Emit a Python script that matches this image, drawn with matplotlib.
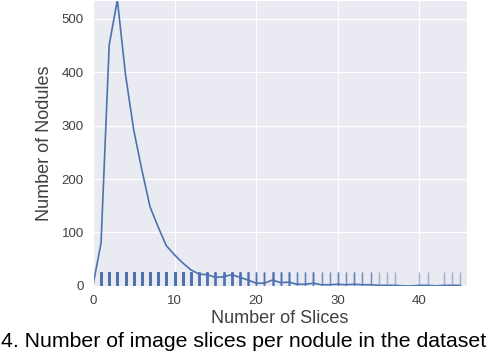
import numpy as np
import matplotlib
matplotlib.use("Agg")
import matplotlib.pyplot as plt
import seaborn as sns

sns.set_style("darkgrid")
plt.rcParams['font.family'] = ['Liberation Sans', 'DejaVu Sans']

# number of slices per nodule -> how many nodules have that many slices
slices = list(range(0, 46))
counts = [0, 80, 451, 535, 395, 292, 217, 148, 110, 75,
          58, 43, 30, 22, 21, 16, 17, 21, 16, 11,
          5, 5, 11, 6, 7, 3, 3, 5, 2, 2,
          3, 2, 3, 2, 2, 1, 1, 1, 0, 0,
          1, 1, 0, 1, 1, 1]

blue = "#4C72B0"

fig = plt.figure(figsize=(5.02, 3.56), dpi=100)
ax = fig.add_axes([0.185, 0.197, 0.745, 0.803])

ax.plot(slices, counts, color=blue, lw=1.2)

# rug of the individual observations
rug = np.repeat(slices, counts)
sns.rugplot(x=rug, ax=ax, height=0.05, color=blue, alpha=0.5, lw=1.2)

ax.set_xlim(0, 45.8)
ax.set_ylim(0, 535)
ax.set_xticks([0, 10, 20, 30, 40])
ax.set_yticks([0, 100, 200, 300, 400, 500])
ax.tick_params(labelsize=9.5, colors='.25', pad=3)
ax.set_xlabel("Number of Slices", fontsize=13, color='.25', labelpad=2)
ax.set_ylabel("Number of Nodules", fontsize=13, color='.25', labelpad=6)

fig.text(0.002, 0.042, "4. Number of image slices per nodule in the dataset",
         fontsize=15.3, color='black', ha='left', va='center')

fig.savefig("out.png", dpi=100)
